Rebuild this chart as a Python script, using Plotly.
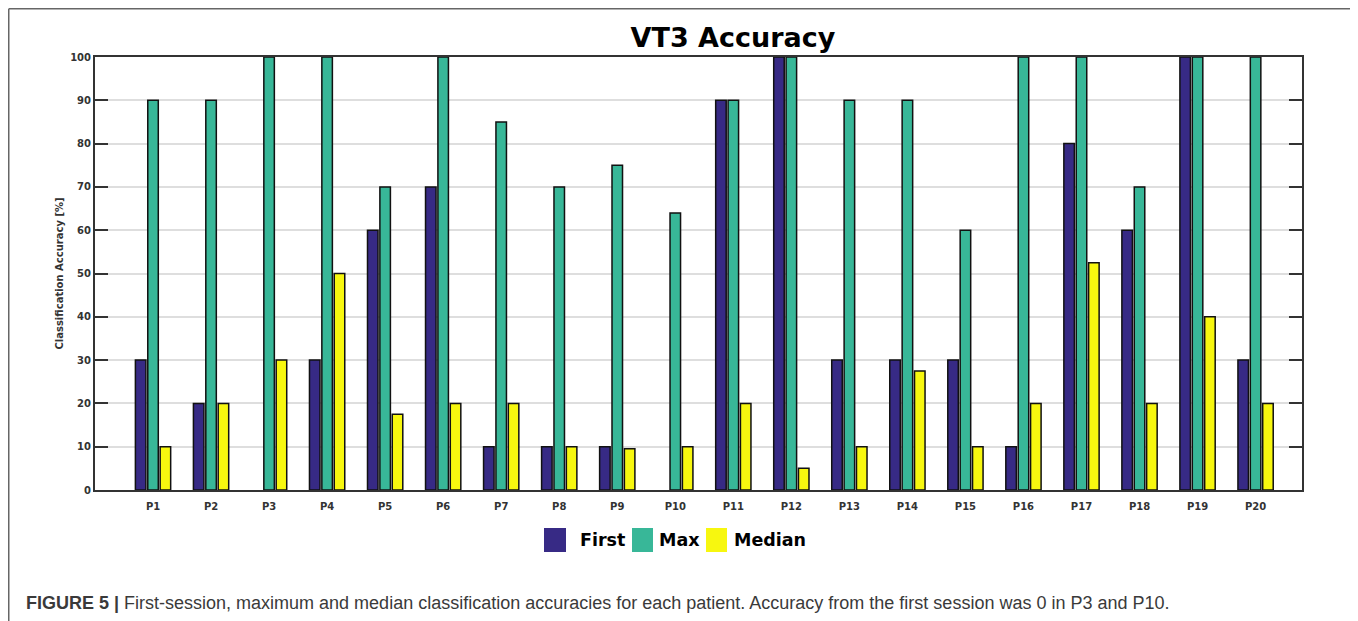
import plotly.graph_objects as go

patients = [f"P{i}" for i in range(1, 21)]
first = [30, 20, 0, 30, 60, 70, 10, 10, 10, 0, 90, 100, 30, 30, 30, 10, 80, 60, 100, 30]
maxv = [90, 90, 100, 100, 70, 100, 85, 70, 75, 64, 90, 100, 90, 90, 60, 100, 100, 70, 100, 100]
median = [10, 20, 30, 50, 17.5, 20, 20, 10, 9.5, 10, 20, 5, 10, 27.5, 10, 20, 52.5, 20, 40, 20]

series_names = ["First", "Max", "Median"]
series_colors = ["#372a85", "#38b798", "#f7f70f"]
y_ticks = list(range(0, 101, 10))

OFF = 8  # page body margin offset
W_FIG, H_FIG = 1358 - OFF, 621 - OFF
L, R, T, B = 95 - OFF, 1302 - OFF, 57 - OFF, 490 - OFF


def px(x):
    return (x - OFF - L) / (R - L)


def py(y):
    return (B - (y - OFF)) / (B - T)


fig = go.Figure()
for name, vals, col in zip(series_names, [first, maxv, median], series_colors):
    fig.add_trace(go.Bar(
        x=patients, y=vals, name=name,
        marker=dict(color=col, line=dict(color="#111111",
                                         width=[1.5 if v > 0 else 0 for v in vals])),
        showlegend=False,
    ))

shapes = []
annotations = []

# outer frame
frame_col = "#666666"
shapes.append(dict(type="line", xref="paper", yref="paper", x0=px(8.75), x1=px(1356), y0=py(8.75), y1=py(8.75),
                   line=dict(color=frame_col, width=1.5)))
shapes.append(dict(type="line", xref="paper", yref="paper", x0=px(8.75), x1=px(8.75), y0=py(8.75), y1=py(621),
                   line=dict(color=frame_col, width=1.5)))
shapes.append(dict(type="line", xref="paper", yref="paper", x0=px(1356), x1=px(1356), y0=py(8.75), y1=py(619),
                   line=dict(color=frame_col, width=1.5)))

# manual legend
legend_boxes = [(544, 566), (632, 653), (706, 727)]
legend_text_x = [578, 657, 732]
for (x0, x1), tx, name, col in zip(legend_boxes, legend_text_x, series_names, series_colors):
    shapes.append(dict(type="rect", xref="paper", yref="paper", x0=px(x0), x1=px(x1), y0=py(528), y1=py(552),
                       fillcolor=col, line=dict(color=col, width=0)))
    annotations.append(dict(xref="paper", yref="paper", x=px(tx), y=py(540), xanchor="left", yanchor="middle",
                            text=f"<b>{name}</b>", showarrow=False,
                            font=dict(family="DejaVu Sans", size=17.5, color="#000000")))

annotations.append(dict(
    xref="paper", yref="paper", x=px(24), y=py(603), xanchor="left", yanchor="middle", showarrow=False,
    text="<b>FIGURE 5 |</b> First-session, maximum and median classification accuracies for each patient. "
         "Accuracy from the first session was 0 in P3 and P10.",
    font=dict(family="Liberation Sans", size=18, color="#3a3a3a")))

fig.update_layout(
    width=W_FIG, height=H_FIG,
    margin=dict(l=L, r=W_FIG - R, t=T, b=H_FIG - B),
    paper_bgcolor="white", plot_bgcolor="white",
    barmode="group", bargap=0.36, bargroupgap=0.15,
    title=dict(text="<b>VT3 Accuracy</b>", xref="container", yref="container",
               x=(733 - OFF) / W_FIG, y=1 - (38 - OFF) / H_FIG, xanchor="center", yanchor="middle",
               font=dict(family="DejaVu Sans", size=27, color="#000000")),
    font=dict(family="DejaVu Sans", color="#333333"),
    shapes=shapes, annotations=annotations,
)
fig.update_xaxes(
    type="category", range=[-1, 19.8], showline=True, mirror=True, linecolor="#333333", linewidth=2,
    ticks="", showgrid=False, ticklabelstandoff=6,
    tickfont=dict(family="DejaVu Sans", size=10, color="#333333", weight="bold"),
)
fig.update_yaxes(
    range=[0, 100], tickvals=y_ticks, showline=True, mirror="ticks", linecolor="#333333", linewidth=2,
    ticks="inside", ticklen=13, tickwidth=2, tickcolor="#333333",
    showgrid=True, gridcolor="#dedede", gridwidth=1.5, zeroline=False,
    tickfont=dict(family="DejaVu Sans", size=10, color="#333333", weight="bold"),
    title=dict(text="<b>Classification Accuracy [%]</b>", standoff=5,
               font=dict(family="DejaVu Sans", size=10, color="#333333")),
)

fig.write_html("out.html")
